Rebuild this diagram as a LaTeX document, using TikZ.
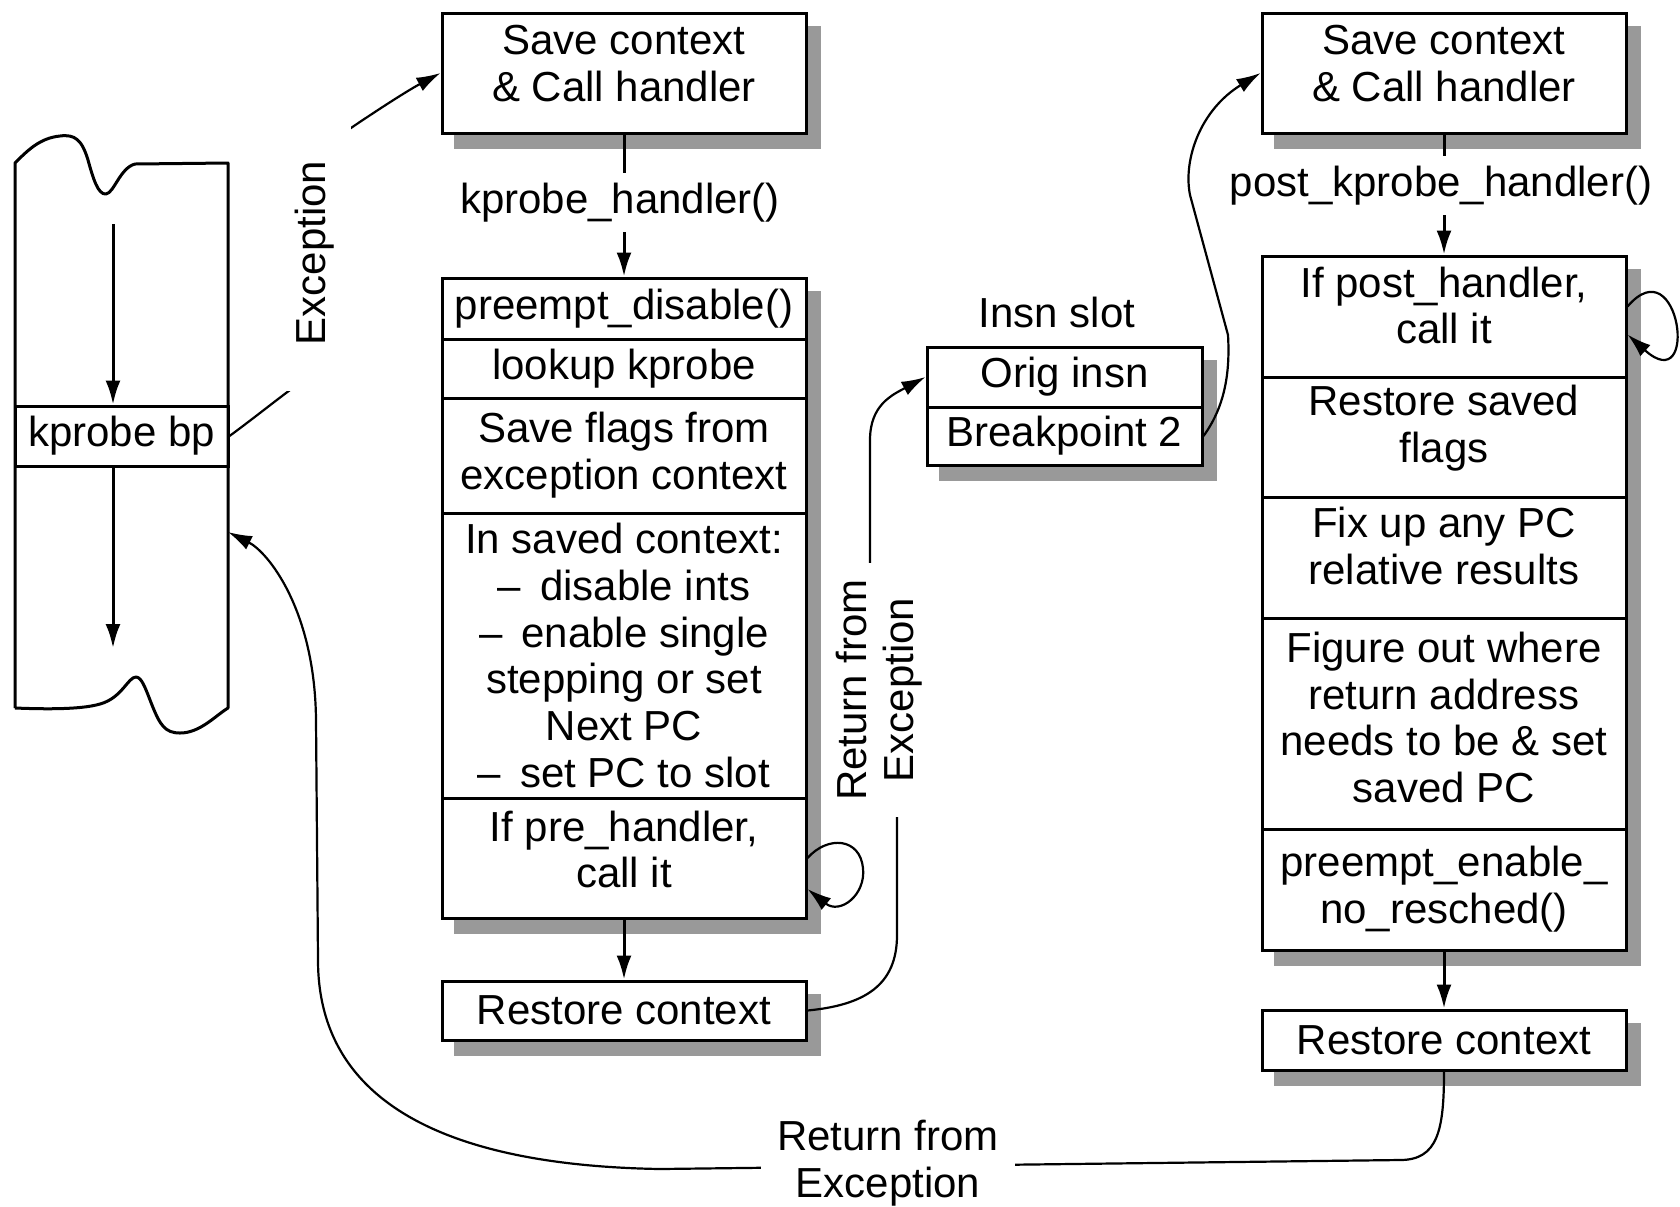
\documentclass[tikz,border=0pt]{standalone}
\usepackage{fontspec}
\setmainfont{Liberation Sans}
\usetikzlibrary{arrows.meta,backgrounds}
\definecolor{shd}{RGB}{153,153,153}
\begin{document}
\begin{tikzpicture}[x=0.5pt,y=-0.5pt,
  every node/.style={font=\fontsize{21pt}{23.4pt}\selectfont},
  box/.style={draw, line width=1.5pt, fill=white, minimum width=182pt, align=center, inner sep=0pt},
  txt/.style={align=center, inner sep=0pt},
  lbl/.style={fill=white, align=center, inner xsep=8pt, inner ysep=5pt},
  mem/.style={line width=1.5pt, line join=round},
  arr/.style={line width=1.5pt, -{Latex[length=12pt,width=7.5pt]}},
  crv/.style={line width=1.1pt, -{Latex[length=12pt,width=7.5pt]}}]
\useasboundingbox (0,0) rectangle (1680,1206);

% ---------- memory block ----------
\draw[mem] (15,708) -- (15,163)
  .. controls (28,150) and (40,138) .. (60,136)
  .. controls (75,134) and (82,140) .. (88,160)
  .. controls (93,178) and (98,195) .. (106,194)
  .. controls (114,193) and (120,168) .. (135,164)
  -- (228,163) -- (228,708)
  .. controls (215,716) and (200,733) .. (180,733)
  .. controls (165,733) and (160,725) .. (152,705)
  .. controls (146,690) and (142,677) .. (136,677)
  .. controls (128,677) and (122,698) .. (100,704)
  .. controls (80,710) and (40,709) .. (15,708);
\node[draw, line width=1.5pt, minimum width=106.5pt, minimum height=30pt, inner sep=0pt] (kbp) at (121.5,436) {kprobe bp};
\coordinate (ma) at (113,224);
\coordinate (mb) at (113,648);
\coordinate (memret) at (228,532);
\draw[arr] (ma) -- (ma |- kbp.north);
\draw[arr] (ma |- kbp.south) -- (mb);

% ---------- middle column ----------
\node[box, minimum height=60pt] (top1) at (624,73) {};
\node[txt] (top1t) at (624,63.5) {Save context\\\& Call handler};
\node[box, minimum height=30.5pt] (r1) at (624,308.5) {preempt\_disable()};
\node[box, minimum height=29.5pt] (r2) at (624,368.5) {lookup kprobe};
\node[box, minimum height=57.5pt] (r3) at (624,455.5) {Save flags from\\exception context};
\node[box, minimum height=142.5pt] (r4) at (624,655.5) {In saved context:\\--\hspace{0.45em}disable ints\\--\hspace{0.45em}enable single\\stepping or set\\Next PC\\--\hspace{0.45em}set PC to slot};
\node[box, minimum height=60pt] (r5) at (624,858) {};
\node[txt] (r5t) at (624,849.5) {If pre\_handler,\\call it};
\node[box, minimum height=29.5pt] (rest1) at (624,1010.5) {Restore context};

% ---------- insn slot ----------
\node[txt] (insnlbl) at (1057,312.5) {Insn slot};
\node[box, minimum width=137.5pt, minimum height=30pt] (orig) at (1064.5,377) {Orig insn};
\node[box, minimum width=137.5pt, minimum height=29pt] (bp2) at (1064.5,436) {Breakpoint 2};

% ---------- right column ----------
\node[box, minimum height=60pt] (top2) at (1444,73) {};
\node[txt] (top2t) at (1444,63.5) {Save context\\\& Call handler};
\node[box, minimum height=60.5pt] (s1) at (1444,316.5) {};
\node[txt] (s1t) at (1444,305.5) {If post\_handler,\\call it};
\node[box, minimum height=60pt] (s2) at (1444,437) {};
\node[txt] (s2t) at (1444,428) {Restore saved\\flags};
\node[box, minimum height=60.5pt] (s3) at (1444,557.5) {};
\node[txt] (s3t) at (1444,546) {Fix up any PC\\relative results};
\node[box, minimum height=105.5pt] (s4) at (1444,723.5) {};
\node[txt] (s4t) at (1444,717.5) {Figure out where\\return address\\needs to be \& set\\saved PC};
\node[box, minimum height=60.5pt] (s5) at (1444,889.5) {preempt\_enable\_\\no\_resched()};
\node[box, minimum height=30pt] (rest2) at (1444,1040) {Restore context};

% ---------- shadows ----------
\begin{scope}[on background layer]
\fill[shd] ([shift={(13,14)}]top1.north west) rectangle ([shift={(13,14)}]top1.south east);
\fill[shd] ([shift={(13,14)}]r1.north west) rectangle ([shift={(13,14)}]r5.south east);
\fill[shd] ([shift={(13,14)}]rest1.north west) rectangle ([shift={(13,14)}]rest1.south east);
\fill[shd] ([shift={(13,14)}]orig.north west) rectangle ([shift={(13,14)}]bp2.south east);
\fill[shd] ([shift={(13,14)}]top2.north west) rectangle ([shift={(13,14)}]top2.south east);
\fill[shd] ([shift={(13,14)}]s1.north west) rectangle ([shift={(13,14)}]s5.south east);
\fill[shd] ([shift={(13,14)}]rest2.north west) rectangle ([shift={(13,14)}]rest2.south east);
\end{scope}

% ---------- straight connectors ----------
\draw[arr] (top1) -- (r1);
\node[lbl, inner xsep=2pt] (khl) at (620,202.5) {kprobe\_handler()};
\draw[arr] (r5) -- (rest1);
\draw[arr] (top2) -- (s1);
\node[lbl, inner xsep=2pt] (pkh) at (1441,185.5) {post\_kprobe\_handler()};
\draw[arr] (s5) -- (rest2);

% ---------- curved connectors ----------
\draw[crv] (kbp.east) .. controls (250,421) and (270,405) .. (290,390)
  -- (345,132) .. controls (370,115) and (405,92) .. (top1.west);
\node[lbl, rotate=90, inner xsep=23pt, inner ysep=8pt] (exc) at (315,253) {Exception};

\draw[crv] (rest1.east) .. controls (865,1005) and (897,985) .. (897,935)
  -- (897,800) -- (870,575) -- (870,440)
  .. controls (870,405) and (892,395) .. (orig.west);
\node[lbl, rotate=90] (ret1) at (879,690) {Return from\\Exception};

\draw[crv] (bp2.east) .. controls (1226,405) and (1230,370) .. (1228,335)
  -- (1190,195) .. controls (1183,160) and (1200,110) .. (top2.west);

\draw[crv] (r5.east) .. controls (828,835) and (860,838) .. (863,868)
  .. controls (866,895) and (840,915) .. ([yshift=-15.5pt]r5.east);
\draw[crv] ([yshift=5pt]s1.east) .. controls (1680,245) and (1700,400) .. ([yshift=-9pt]s1.east);

\draw[crv] (rest2.south) .. controls (1444,1130) and (1438,1160) .. (1400,1160)
  -- (660,1169) .. controls (480,1166) and (318,1120) .. (318,960)
  -- (316,720) .. controls (315,610) and (268,552) .. (memret);
\node[lbl] (ret2) at (888,1163) {Return from\\Exception};
\end{tikzpicture}
\end{document}
